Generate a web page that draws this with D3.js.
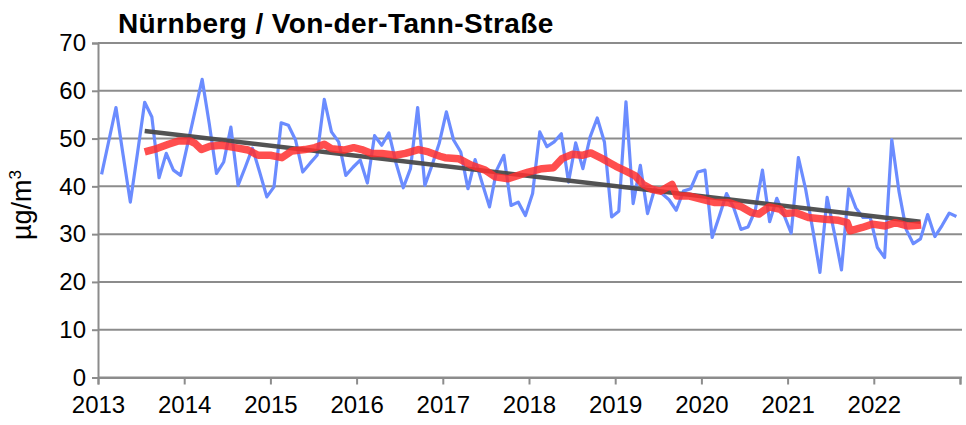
<!DOCTYPE html>
<html><head><meta charset="utf-8">
<script src="https://cdn.jsdelivr.net/npm/d3@7"></script>
<style>body{margin:0;background:#fff}svg{display:block;font-family:"Liberation Sans",Arial,sans-serif}</style>
</head><body><svg id="c" width="966" height="425"></svg>
<script>
const titleText = "Nürnberg / Von-der-Tann-Straße";
const yearLabels = ["2013","2014","2015","2016","2017","2018","2019","2020","2021","2022"];
const yTicks = [0,10,20,30,40,50,60,70];
// monthly means Jan 2013 .. Dec 2022
const monthly = [
 42.5,49.5,56.5,46.5,36.7,47.0,57.6,54.5,41.8,46.9,43.4,42.3,
 49.0,55.7,62.4,53.0,42.7,45.1,52.4,40.2,44.0,48.0,43.0,37.8,
 39.9,53.3,52.8,49.7,43.0,44.8,46.5,58.2,51.4,49.3,42.3,44.0,
 45.5,40.7,50.6,48.6,51.2,44.8,39.7,43.7,56.5,40.2,44.4,49.0,
 55.6,49.7,47.2,39.5,45.6,40.6,35.7,43.4,46.5,36.0,36.7,33.9,
 38.5,51.4,48.3,49.3,51.0,40.9,49.1,43.7,50.3,54.3,49.3,33.6,
 34.8,57.7,36.4,44.4,34.3,39.5,38.5,37.2,35.0,39.0,39.5,43.0,
 43.4,29.3,33.8,38.5,35.5,31.0,31.5,35.0,43.4,32.6,37.5,34.0,
 30.2,46.0,39.5,31.0,22.0,37.7,30.3,22.5,39.5,35.5,33.5,33.5,
 27.2,25.1,49.8,39.0,31.0,28.0,29.0,34.1,29.5,31.8,34.4,33.7
];
// 12-month moving average (month index since Jan 2013)
const redMonth = [6,7.7,9.3,10.7,12.3,13,13.9,15.1,16.7,18.6,20.4,21.8,23.5,25.1,26.5,28.3,29.7,31,32,33.7,35.1,36.2,37.6,39,40.9,42.3,44.1,45.5,47.1,47.8,49.7,51.5,53.4,54.8,56.6,58,59.4,61.3,62.9,64.1,65.5,66.9,68.1,69.7,70.9,71.6,73,74.3,75.4,76.6,77.8,79.4,80.1,81.7,83.6,85.4,87.3,89.1,90.5,91.5,92.9,94.5,95.2,96.6,98.4,100.7,102.6,103.8,104.2,105.9,107.3,109.1,110.5,112.3,114.1];
const redValue = [47.2,47.9,48.8,49.5,49.5,49.0,47.7,48.4,48.6,48.1,47.6,46.5,46.5,46.0,47.4,47.7,48.1,48.8,47.9,47.6,48.1,47.7,46.9,46.9,46.5,46.9,47.7,47.2,46.3,46.0,45.8,44.4,43.4,42.0,41.6,42.3,43.0,43.7,43.9,45.8,46.7,46.5,47.0,45.8,44.8,44.2,43.2,42.2,40.4,39.4,39.0,40.4,38.0,38.0,37.3,36.6,36.6,35.7,34.5,34.2,35.7,35.2,34.3,34.5,33.5,33.1,32.9,32.4,30.7,31.4,32.1,31.7,32.4,31.7,31.9];
const trendMonth = [6,114];
const trendValue = [51.6,32.6];

const svg = d3.select("#c");
const L = 98, R = 960, T = 43, B = 377.5;
const x = d3.scaleLinear().domain([0,120]).range([L,R]);
const y = d3.scaleLinear().domain([0,70]).range([B,T]);
const gridC = "#8c8c8c";

// gridlines
svg.append("g").selectAll("line").data(yTicks).join("line")
  .attr("x1",L).attr("x2",R+2).attr("y1",d=>y(d)).attr("y2",d=>y(d))
  .attr("stroke",gridC).attr("stroke-width",2);

// y axis
const yAxis = d3.axisLeft(y).tickValues(yTicks).tickSize(6).tickPadding(6);
const gy = svg.append("g").attr("transform",`translate(${L},0)`).call(yAxis);
gy.select(".domain").attr("stroke",gridC).attr("stroke-width",2);
gy.selectAll(".tick line").attr("stroke",gridC).attr("stroke-width",2);
gy.selectAll("text").attr("font-size",24).attr("fill","#000").attr("font-family","Liberation Sans, Arial, sans-serif");

// x axis
const xAxis = d3.axisBottom(x).tickValues(d3.range(0,121,12)).tickSize(7).tickPadding(11)
  .tickFormat((d,i)=> yearLabels[i] || "");
const gx = svg.append("g").attr("transform",`translate(0,${B})`).call(xAxis);
gx.select(".domain").attr("stroke",gridC).attr("stroke-width",2);
gx.selectAll(".tick line").attr("stroke",gridC).attr("stroke-width",2);
gx.selectAll("text").attr("font-size",24).attr("fill","#000").attr("font-family","Liberation Sans, Arial, sans-serif");

// blue monthly line
const line = d3.line().x(d=>x(d[0]+0.5)).y(d=>y(d[1]));
svg.append("path").datum(monthly.map((v,i)=>[i,v]))
  .attr("d",line).attr("fill","none").attr("stroke","#6b8cff").attr("stroke-width",3.2)
  .attr("stroke-linejoin","round");

// trend
svg.append("path").datum(trendMonth.map((m,i)=>[m,trendValue[i]]))
  .attr("d",line).attr("fill","none").attr("stroke","#4a4a4a").attr("stroke-width",4.5)
  .attr("stroke-opacity",0.95);

// red moving average
svg.append("path").datum(redMonth.map((m,i)=>[m,redValue[i]]))
  .attr("d",line).attr("fill","none").attr("stroke","#ff2f2f").attr("stroke-width",7.5)
  .attr("stroke-opacity",0.85).attr("stroke-linejoin","round");

// title
svg.append("text").attr("x",118).attr("y",33).attr("font-size",28).attr("font-weight","bold")
  .attr("letter-spacing",0.4).attr("fill","#000").text(titleText);

// y title
const yt = svg.append("text").attr("transform","translate(31,205) rotate(-90)")
  .attr("text-anchor","middle").attr("font-size",27).attr("fill","#000");
yt.append("tspan").text("µg/m");
yt.append("tspan").attr("font-size",17).attr("dy",-10).text("3");
</script></body></html>
